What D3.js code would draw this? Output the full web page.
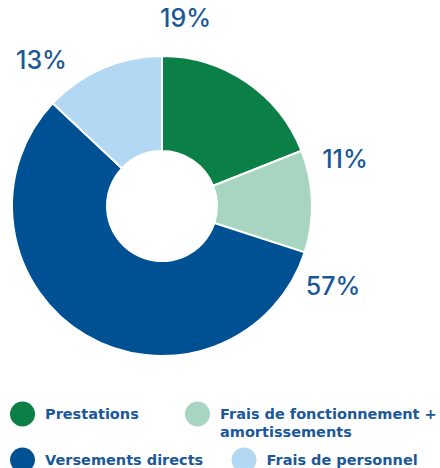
<!DOCTYPE html>
<html lang="fr">
<head>
    <meta charset="UTF-8">
    <title>Répartition</title>
    <script src="https://cdn.jsdelivr.net/npm/d3@7"></script>
    <style>
        body { margin: 0; background: #fff; }
        .pct { font-family: Inter, sans-serif; font-size: 25px; font-weight: 500; fill: #1a5899; }
        .legend text { font-family: "DejaVu Sans", sans-serif; font-weight: bold; font-size: 14.5px; fill: #1a5899; }
    </style>
</head>
<body>
<svg width="440" height="468"></svg>

<script>
    // data
    var categories = ["Prestations", "Frais de fonctionnement + amortissements", "Versements directs", "Frais de personnel"];
    var values = [19, 11, 57, 13];
    var colors = ["#0a7f46", "#a8d5c1", "#005094", "#b3d8f4"];

    var svg = d3.select("svg"),
        cx = 162,
        cy = 206,
        outerR = 150,
        innerR = 55;

    var pie = d3.pie().sort(null).value(function (d) { return d; });
    var arcs = pie(values);

    var arc = d3.arc().innerRadius(innerR).outerRadius(outerR);

    var g = svg.append("g").attr("transform", "translate(" + cx + "," + cy + ")");

    g.selectAll("path")
        .data(arcs)
        .enter()
        .append("path")
        .attr("d", arc)
        .attr("fill", function (d, i) { return colors[i]; })
        .attr("stroke", "#fff")
        .attr("stroke-width", 2);

    // labels sit just past the start of each slice
    var labelR = 189;
    g.selectAll("text.pct")
        .data(arcs)
        .enter()
        .append("text")
        .attr("class", "pct")
        .attr("text-anchor", "middle")
        .attr("dy", "0.36em")
        .attr("x", function (d) { return labelR * Math.sin(d.startAngle + 0.125); })
        .attr("y", function (d) { return -labelR * Math.cos(d.startAngle + 0.125); })
        .text(function (d) { return d.data + "%"; });

    // legend
    var legendPos = [[22.5, 414], [197.5, 414], [22.5, 460], [244, 460]];
    var legend = svg.append("g").attr("class", "legend");

    var items = legend.selectAll("g")
        .data(categories)
        .enter()
        .append("g")
        .attr("transform", function (d, i) {
            return "translate(" + legendPos[i][0] + "," + legendPos[i][1] + ")";
        });

    items.append("circle")
        .attr("r", 12.5)
        .attr("fill", function (d, i) { return colors[i]; });

    items.append("text")
        .attr("x", 22.5)
        .attr("y", 5)
        .each(function (d) {
            var t = d3.select(this);
            if (d.indexOf("+") > 0) {
                var parts = d.split("+ ");
                t.append("tspan").attr("x", 22.5).text(parts[0] + "+");
                t.append("tspan").attr("x", 22.5).attr("dy", 18).text(parts[1]);
            } else {
                t.text(d);
            }
        });
</script>
</body>
</html>
